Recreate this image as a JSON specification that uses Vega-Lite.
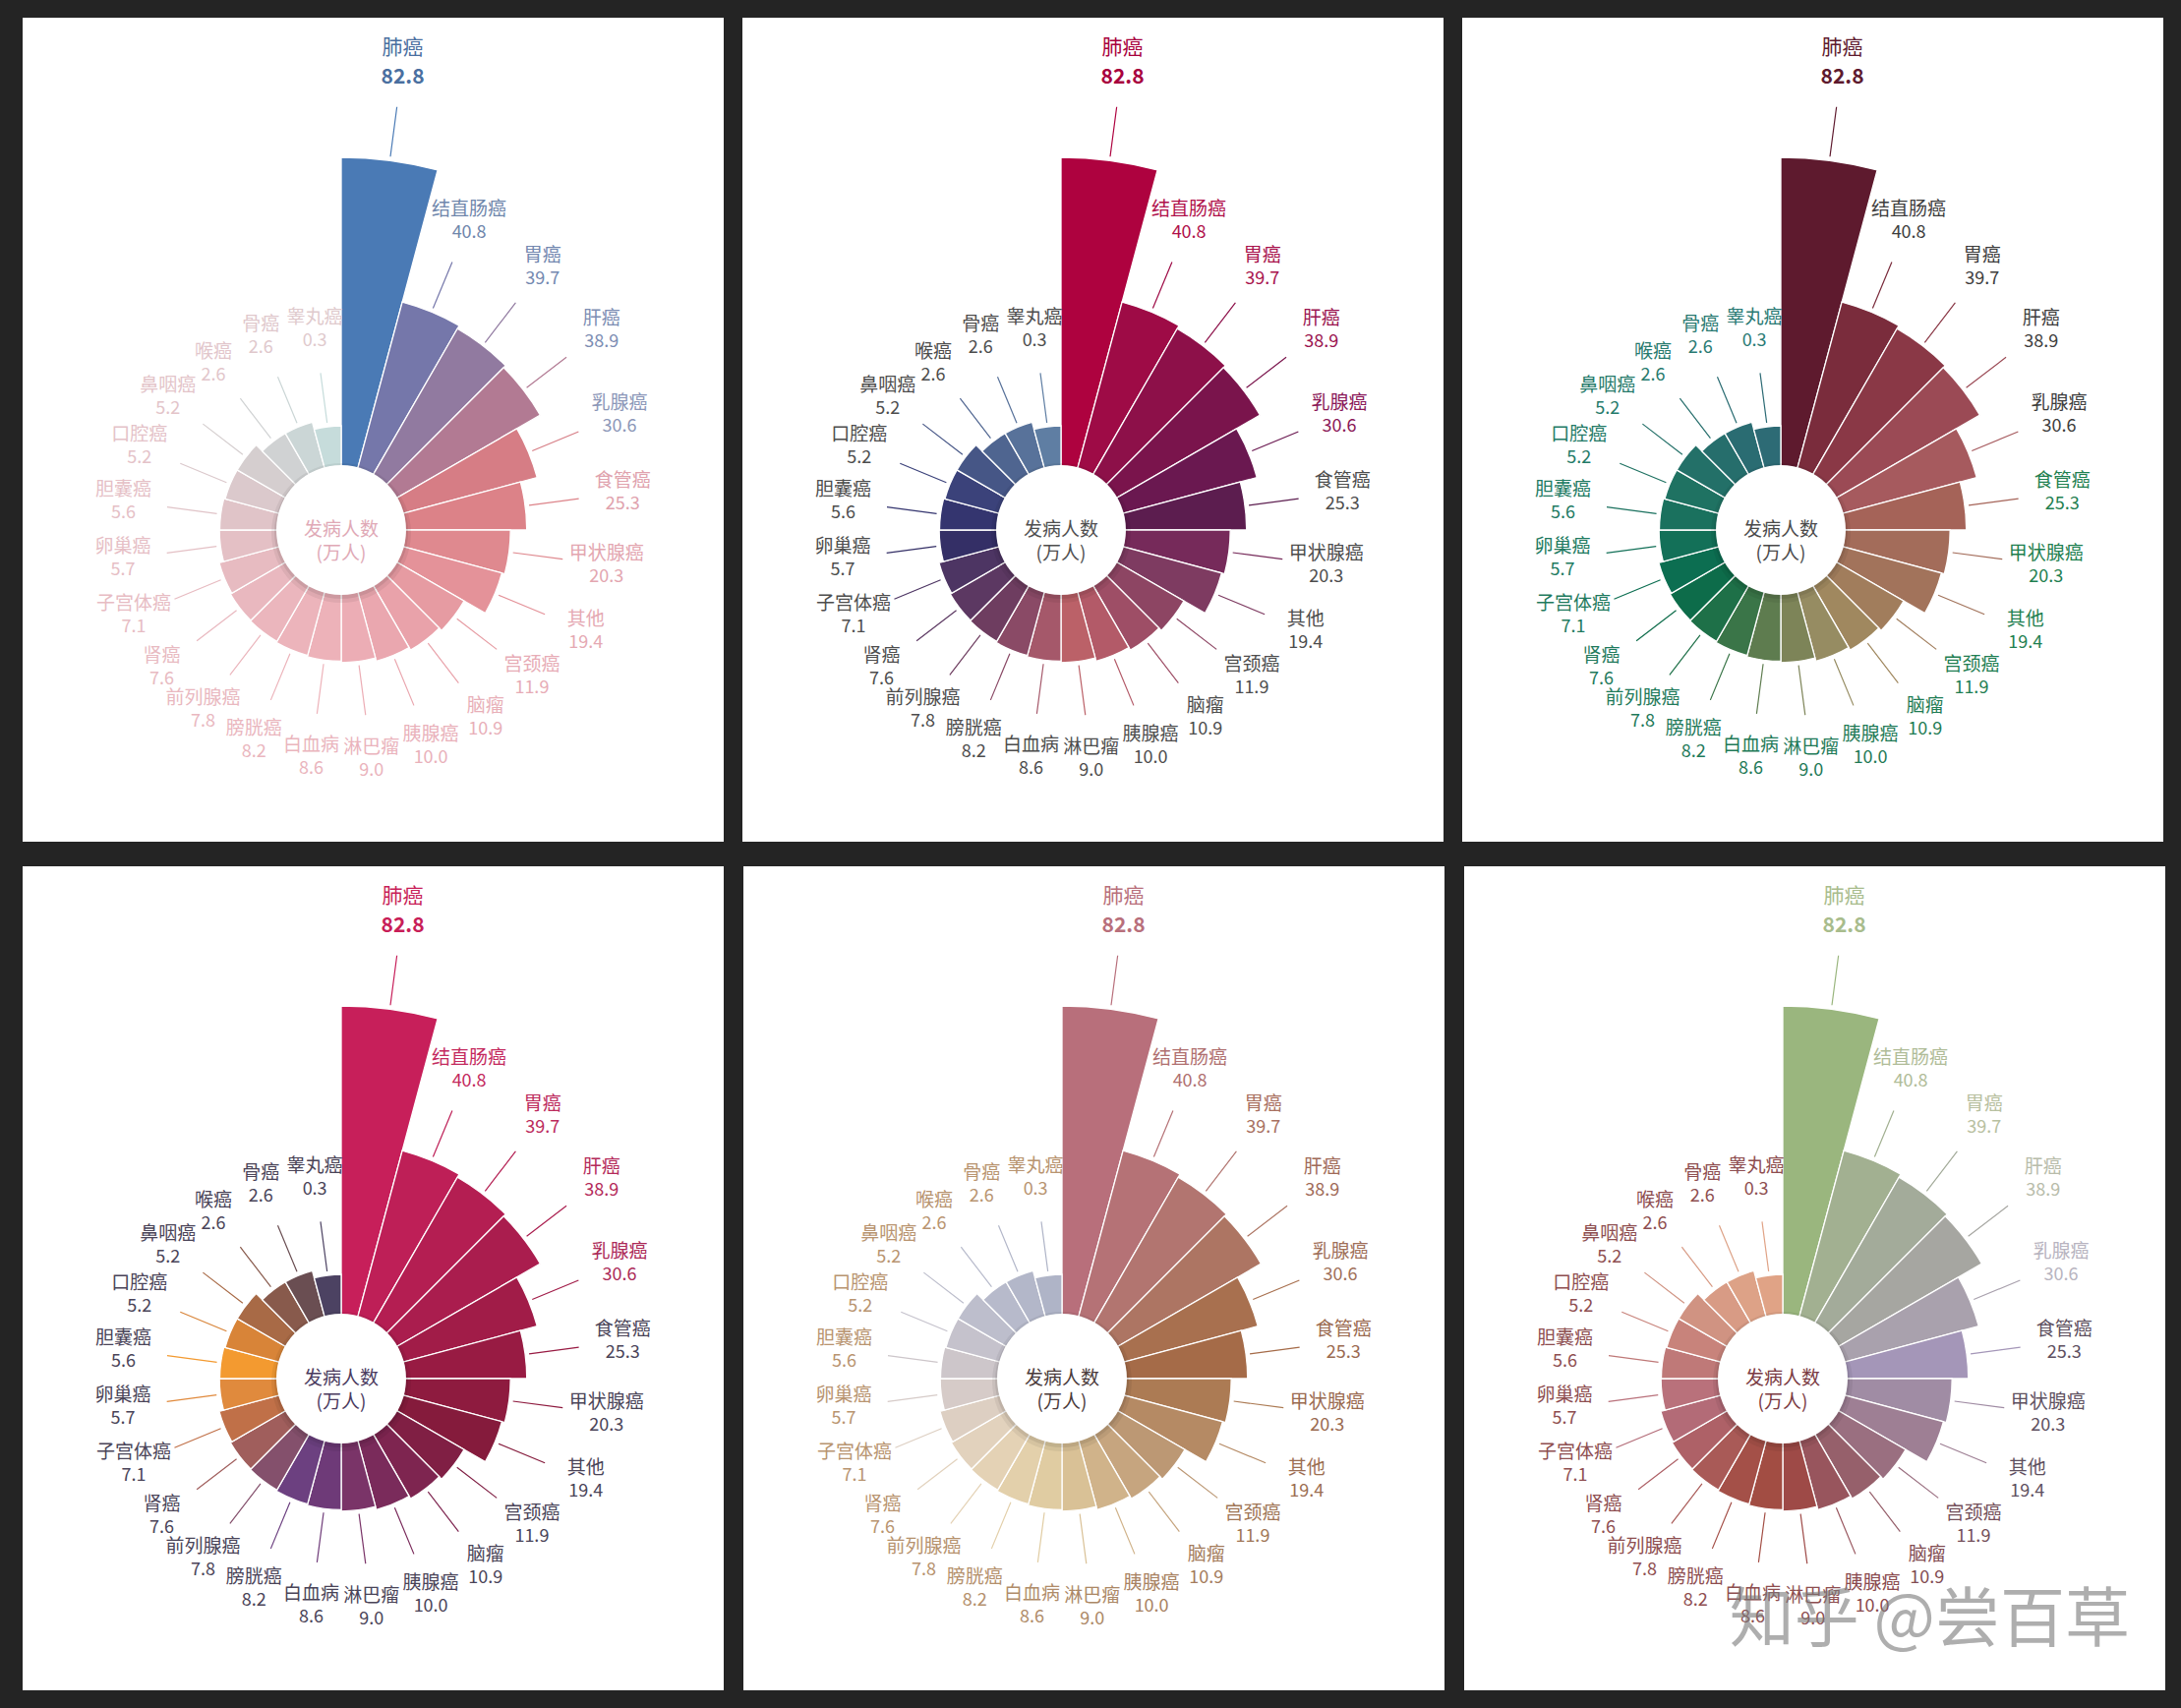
{
"$schema":"https://vega.github.io/schema/vega-lite/v6.json",
"background":"#242424",
"padding":{"left":23,"top":18,"right":18,"bottom":18},
"datasets":{"cancer":[
{"name":"肺癌","value":82.8},{"name":"结直肠癌","value":40.8},{"name":"胃癌","value":39.7},{"name":"肝癌","value":38.9},
{"name":"乳腺癌","value":30.6},{"name":"食管癌","value":25.3},{"name":"甲状腺癌","value":20.3},{"name":"其他","value":19.4},
{"name":"宫颈癌","value":11.9},{"name":"脑瘤","value":10.9},{"name":"胰腺癌","value":10.0},{"name":"淋巴瘤","value":9.0},
{"name":"白血病","value":8.6},{"name":"膀胱癌","value":8.2},{"name":"前列腺癌","value":7.8},{"name":"肾癌","value":7.6},
{"name":"子宫体癌","value":7.1},{"name":"卵巢癌","value":5.7},{"name":"胆囊癌","value":5.6},{"name":"口腔癌","value":5.2},
{"name":"鼻咽癌","value":5.2},{"name":"喉癌","value":2.6},{"name":"骨癌","value":2.6},{"name":"睾丸癌","value":0.3}]},
"config":{"view":{"fill":"#ffffff","stroke":null},"text":{"font":"Noto Sans CJK SC"}},
"spacing":25,
"resolve":{"scale":{"color":"independent","fill":"independent"}},
"vconcat":[
{"hconcat":[
{"width":713,"height":838,"view":{"fill":"#ffffff","stroke":null},"data":{"name":"cancer"},"transform":[{"window":[{"op":"row_number","as":"r"}]}],
"layer":[
{"mark":{"type":"arc","x":324,"y":521,"theta2Offset":0.261799,"stroke":"#ffffff","strokeWidth":1.3},"encoding":{"theta":{"field":"r","type":"quantitative","scale":{"domain":[1,25]}},"theta2":{"field":"r"},"radius":{"field":"value","type":"quantitative","scale":{"zero":true,"nice":false,"range":[105,379]}},"radius2":{"value":40},"color":{"field":"r","type":"ordinal","legend":null,"scale":{"range":["#4a7ab5","#7577aa","#917aa0","#b27a93","#d67d85","#dc8288","#df898f","#e49299","#e69ba2","#e9a2aa","#eaa7af","#ecadb5","#edb2b9","#ecb4bb","#ebb6bd","#e9b8bf","#e7bbc1","#e4c0c5","#e0c4c8","#dbc9cc","#d5cecf","#d0d2d3","#cbd6d6","#c6dcdb"]}}}},
{"mark":{"type":"arc","x":324,"y":521,"filled":false,"thetaOffset":0.1309,"theta2Offset":0.1309,"radiusOffset":55,"radius2Offset":4,"strokeWidth":1.2},"encoding":{"theta":{"field":"r","type":"quantitative","scale":{"domain":[1,25]}},"theta2":{"field":"r"},"radius":{"field":"value","type":"quantitative","scale":{"zero":true,"nice":false,"range":[105,379]}},"radius2":{"field":"value"},"color":{"field":"r","type":"ordinal","legend":null}}},
{"data":{"values":[{}]},"mark":{"type":"arc","x":324,"y":524,"radius":71,"fill":"#000000","opacity":0.06}},
{"data":{"values":[{}]},"mark":{"type":"arc","x":324,"y":523,"radius":68,"fill":"#000000","opacity":0.08}},
{"data":{"values":[{}]},"mark":{"type":"arc","x":324,"y":521,"radius":66,"fill":"#ffffff"}},
{"data":{"values":[{}]},"mark":{"type":"text","x":324,"y":521,"text":["发病人数","(万人)"],"lineHeight":24,"fontSize":19,"align":"center","baseline":"middle","color":"#e0a9b6"}},
{"transform":[{"filter":"datum.r > 1"}],"mark":{"type":"text","x":324,"y":521,"thetaOffset":0.1309,"radiusOffset":100,"dy":-12,"fontSize":19,"align":"center","baseline":"middle"},"encoding":{"theta":{"field":"r","type":"quantitative","scale":{"domain":[1,25]}},"radius":{"field":"value","type":"quantitative","scale":{"zero":true,"nice":false,"range":[105,379]}},"text":{"field":"name"},"fill":{"field":"r","type":"ordinal","legend":null,"scale":{"range":["#4a6fa0","#6f86ab","#7388b0","#7c8db3","#8c97b8","#e0a2ad","#e3a6b0","#e5a9b3","#e7acb6","#e8afb8","#e9b1ba","#eab3bc","#eab5bd","#eab6be","#e9b8c0","#e8bac1","#e7bcc3","#e6bec5","#e5c0c6","#e4c2c8","#e3c4c9","#e2c6cb","#e0c8cc","#dfcacd"]}}}},
{"transform":[{"filter":"datum.r > 1"}],"mark":{"type":"text","x":324,"y":521,"thetaOffset":0.1309,"radiusOffset":100,"dy":12,"fontSize":18,"align":"center","baseline":"middle"},"encoding":{"theta":{"field":"r","type":"quantitative","scale":{"domain":[1,25]}},"radius":{"field":"value","type":"quantitative","scale":{"zero":true,"nice":false,"range":[105,379]}},"text":{"field":"value","type":"quantitative","format":".1f"},"fill":{"field":"r","type":"ordinal","legend":null}}},
{"transform":[{"filter":"datum.r == 1"}],"mark":{"type":"text","x":324,"y":521,"thetaOffset":0.1309,"radiusOffset":100,"dy":-15,"fontSize":21,"align":"center","baseline":"middle"},"encoding":{"theta":{"field":"r","type":"quantitative","scale":{"domain":[1,25]}},"radius":{"field":"value","type":"quantitative","scale":{"zero":true,"nice":false,"range":[105,379]}},"text":{"field":"name"},"fill":{"field":"r","type":"ordinal","legend":null}}},
{"transform":[{"filter":"datum.r == 1"}],"mark":{"type":"text","x":324,"y":521,"thetaOffset":0.1309,"radiusOffset":100,"dy":15,"fontSize":21,"fontWeight":"bold","align":"center","baseline":"middle"},"encoding":{"theta":{"field":"r","type":"quantitative","scale":{"domain":[1,25]}},"radius":{"field":"value","type":"quantitative","scale":{"zero":true,"nice":false,"range":[105,379]}},"text":{"field":"value","type":"quantitative","format":".1f"},"fill":{"field":"r","type":"ordinal","legend":null}}}
]},
{"width":713,"height":838,"view":{"fill":"#ffffff","stroke":null},"data":{"name":"cancer"},"transform":[{"window":[{"op":"row_number","as":"r"}]}],
"layer":[
{"mark":{"type":"arc","x":324,"y":521,"theta2Offset":0.261799,"stroke":"#ffffff","strokeWidth":1.3},"encoding":{"theta":{"field":"r","type":"quantitative","scale":{"domain":[1,25]}},"theta2":{"field":"r"},"radius":{"field":"value","type":"quantitative","scale":{"zero":true,"nice":false,"range":[105,379]}},"radius2":{"value":40},"color":{"field":"r","type":"ordinal","legend":null,"scale":{"range":["#ae023f","#9e0b46","#8d1049","#7a144c","#6a1850","#5c1d4f","#762a5a","#7e3b61","#8d4563","#9e4e66","#b35a68","#bb6168","#a5586a","#8a4a66","#6e3d60","#5c3862","#4d3563","#342f66","#34356f","#3b427a","#465686","#4f6590","#58729a","#5f7ea3"]}}}},
{"mark":{"type":"arc","x":324,"y":521,"filled":false,"thetaOffset":0.1309,"theta2Offset":0.1309,"radiusOffset":55,"radius2Offset":4,"strokeWidth":1.2},"encoding":{"theta":{"field":"r","type":"quantitative","scale":{"domain":[1,25]}},"theta2":{"field":"r"},"radius":{"field":"value","type":"quantitative","scale":{"zero":true,"nice":false,"range":[105,379]}},"radius2":{"field":"value"},"color":{"field":"r","type":"ordinal","legend":null}}},
{"data":{"values":[{}]},"mark":{"type":"arc","x":324,"y":524,"radius":71,"fill":"#000000","opacity":0.06}},
{"data":{"values":[{}]},"mark":{"type":"arc","x":324,"y":523,"radius":68,"fill":"#000000","opacity":0.08}},
{"data":{"values":[{}]},"mark":{"type":"arc","x":324,"y":521,"radius":66,"fill":"#ffffff"}},
{"data":{"values":[{}]},"mark":{"type":"text","x":324,"y":521,"text":["发病人数","(万人)"],"lineHeight":24,"fontSize":19,"align":"center","baseline":"middle","color":"#4f4f4f"}},
{"transform":[{"filter":"datum.r > 1"}],"mark":{"type":"text","x":324,"y":521,"thetaOffset":0.1309,"radiusOffset":100,"dy":-12,"fontSize":19,"align":"center","baseline":"middle"},"encoding":{"theta":{"field":"r","type":"quantitative","scale":{"domain":[1,25]}},"radius":{"field":"value","type":"quantitative","scale":{"zero":true,"nice":false,"range":[105,379]}},"text":{"field":"name"},"fill":{"field":"r","type":"ordinal","legend":null,"scale":{"range":["#a8003d","#b0104a","#a8124c","#9a1450","#8a1858","#4d4d4d","#4d4d4d","#4d4d4d","#4d4d4d","#4d4d4d","#4d4d4d","#4d4d4d","#4d4d4d","#4d4d4d","#4d4d4d","#4d4d4d","#4d4d4d","#4d4d4d","#4d4d4d","#4d4d4d","#4d4d4d","#4d4d4d","#4d4d4d","#4d4d4d"]}}}},
{"transform":[{"filter":"datum.r > 1"}],"mark":{"type":"text","x":324,"y":521,"thetaOffset":0.1309,"radiusOffset":100,"dy":12,"fontSize":18,"align":"center","baseline":"middle"},"encoding":{"theta":{"field":"r","type":"quantitative","scale":{"domain":[1,25]}},"radius":{"field":"value","type":"quantitative","scale":{"zero":true,"nice":false,"range":[105,379]}},"text":{"field":"value","type":"quantitative","format":".1f"},"fill":{"field":"r","type":"ordinal","legend":null}}},
{"transform":[{"filter":"datum.r == 1"}],"mark":{"type":"text","x":324,"y":521,"thetaOffset":0.1309,"radiusOffset":100,"dy":-15,"fontSize":21,"align":"center","baseline":"middle"},"encoding":{"theta":{"field":"r","type":"quantitative","scale":{"domain":[1,25]}},"radius":{"field":"value","type":"quantitative","scale":{"zero":true,"nice":false,"range":[105,379]}},"text":{"field":"name"},"fill":{"field":"r","type":"ordinal","legend":null}}},
{"transform":[{"filter":"datum.r == 1"}],"mark":{"type":"text","x":324,"y":521,"thetaOffset":0.1309,"radiusOffset":100,"dy":15,"fontSize":21,"fontWeight":"bold","align":"center","baseline":"middle"},"encoding":{"theta":{"field":"r","type":"quantitative","scale":{"domain":[1,25]}},"radius":{"field":"value","type":"quantitative","scale":{"zero":true,"nice":false,"range":[105,379]}},"text":{"field":"value","type":"quantitative","format":".1f"},"fill":{"field":"r","type":"ordinal","legend":null}}}
]},
{"width":713,"height":838,"view":{"fill":"#ffffff","stroke":null},"data":{"name":"cancer"},"transform":[{"window":[{"op":"row_number","as":"r"}]}],
"layer":[
{"mark":{"type":"arc","x":324,"y":521,"theta2Offset":0.261799,"stroke":"#ffffff","strokeWidth":1.3},"encoding":{"theta":{"field":"r","type":"quantitative","scale":{"domain":[1,25]}},"theta2":{"field":"r"},"radius":{"field":"value","type":"quantitative","scale":{"zero":true,"nice":false,"range":[105,379]}},"radius2":{"value":40},"color":{"field":"r","type":"ordinal","legend":null,"scale":{"range":["#5e1a2e","#7a2c3c","#8a3846","#9b4a55","#a65a5e","#a56358","#a36c5a","#a2735b","#a17d5c","#a0885f","#968c62","#7d8458","#5e7c4f","#3a7548","#1e7048","#0d6c4a","#0c6e51","#137058","#1a715e","#1f7262","#237068","#266e6c","#2a6c72","#2d6b75"]}}}},
{"mark":{"type":"arc","x":324,"y":521,"filled":false,"thetaOffset":0.1309,"theta2Offset":0.1309,"radiusOffset":55,"radius2Offset":4,"strokeWidth":1.2},"encoding":{"theta":{"field":"r","type":"quantitative","scale":{"domain":[1,25]}},"theta2":{"field":"r"},"radius":{"field":"value","type":"quantitative","scale":{"zero":true,"nice":false,"range":[105,379]}},"radius2":{"field":"value"},"color":{"field":"r","type":"ordinal","legend":null}}},
{"data":{"values":[{}]},"mark":{"type":"arc","x":324,"y":524,"radius":71,"fill":"#000000","opacity":0.06}},
{"data":{"values":[{}]},"mark":{"type":"arc","x":324,"y":523,"radius":68,"fill":"#000000","opacity":0.08}},
{"data":{"values":[{}]},"mark":{"type":"arc","x":324,"y":521,"radius":66,"fill":"#ffffff"}},
{"data":{"values":[{}]},"mark":{"type":"text","x":324,"y":521,"text":["发病人数","(万人)"],"lineHeight":24,"fontSize":19,"align":"center","baseline":"middle","color":"#4a4a4a"}},
{"transform":[{"filter":"datum.r > 1"}],"mark":{"type":"text","x":324,"y":521,"thetaOffset":0.1309,"radiusOffset":100,"dy":-12,"fontSize":19,"align":"center","baseline":"middle"},"encoding":{"theta":{"field":"r","type":"quantitative","scale":{"domain":[1,25]}},"radius":{"field":"value","type":"quantitative","scale":{"zero":true,"nice":false,"range":[105,379]}},"text":{"field":"name"},"fill":{"field":"r","type":"ordinal","legend":null,"scale":{"range":["#5e1a2e","#3d3d3d","#3d3d3d","#3d3d3d","#3d3d3d","#1f8050","#1f8050","#1f8050","#1f7e52","#1f7c54","#1f7a56","#1f7a58","#1f7a58","#1f7a5a","#1f7a5a","#1f7a5c","#1f7a5e","#207a60","#217a62","#237a66","#257a6a","#277a6e","#297a72","#2a7a74"]}}}},
{"transform":[{"filter":"datum.r > 1"}],"mark":{"type":"text","x":324,"y":521,"thetaOffset":0.1309,"radiusOffset":100,"dy":12,"fontSize":18,"align":"center","baseline":"middle"},"encoding":{"theta":{"field":"r","type":"quantitative","scale":{"domain":[1,25]}},"radius":{"field":"value","type":"quantitative","scale":{"zero":true,"nice":false,"range":[105,379]}},"text":{"field":"value","type":"quantitative","format":".1f"},"fill":{"field":"r","type":"ordinal","legend":null}}},
{"transform":[{"filter":"datum.r == 1"}],"mark":{"type":"text","x":324,"y":521,"thetaOffset":0.1309,"radiusOffset":100,"dy":-15,"fontSize":21,"align":"center","baseline":"middle"},"encoding":{"theta":{"field":"r","type":"quantitative","scale":{"domain":[1,25]}},"radius":{"field":"value","type":"quantitative","scale":{"zero":true,"nice":false,"range":[105,379]}},"text":{"field":"name"},"fill":{"field":"r","type":"ordinal","legend":null}}},
{"transform":[{"filter":"datum.r == 1"}],"mark":{"type":"text","x":324,"y":521,"thetaOffset":0.1309,"radiusOffset":100,"dy":15,"fontSize":21,"fontWeight":"bold","align":"center","baseline":"middle"},"encoding":{"theta":{"field":"r","type":"quantitative","scale":{"domain":[1,25]}},"radius":{"field":"value","type":"quantitative","scale":{"zero":true,"nice":false,"range":[105,379]}},"text":{"field":"value","type":"quantitative","format":".1f"},"fill":{"field":"r","type":"ordinal","legend":null}}}
]}
],"spacing":19,"resolve":{"scale":{"color":"independent","fill":"independent"}}},
{"hconcat":[
{"width":713,"height":838,"view":{"fill":"#ffffff","stroke":null},"data":{"name":"cancer"},"transform":[{"window":[{"op":"row_number","as":"r"}]}],
"layer":[
{"mark":{"type":"arc","x":324,"y":521,"theta2Offset":0.261799,"stroke":"#ffffff","strokeWidth":1.3},"encoding":{"theta":{"field":"r","type":"quantitative","scale":{"domain":[1,25]}},"theta2":{"field":"r"},"radius":{"field":"value","type":"quantitative","scale":{"zero":true,"nice":false,"range":[105,379]}},"radius2":{"value":40},"color":{"field":"r","type":"ordinal","legend":null,"scale":{"range":["#c71f5a","#be1f57","#b41e52","#aa1d4e","#a11c48","#981b43","#8e1b3f","#851b3c","#801f44","#7e2550","#7a2b5b","#7a3468","#6e3a78","#6c4080","#84506c","#a05e5c","#c07048","#e08a3d","#f39a30","#d88438","#a86a46","#885a4c","#6a4e52","#4c4262"]}}}},
{"mark":{"type":"arc","x":324,"y":521,"filled":false,"thetaOffset":0.1309,"theta2Offset":0.1309,"radiusOffset":55,"radius2Offset":4,"strokeWidth":1.2},"encoding":{"theta":{"field":"r","type":"quantitative","scale":{"domain":[1,25]}},"theta2":{"field":"r"},"radius":{"field":"value","type":"quantitative","scale":{"zero":true,"nice":false,"range":[105,379]}},"radius2":{"field":"value"},"color":{"field":"r","type":"ordinal","legend":null}}},
{"data":{"values":[{}]},"mark":{"type":"arc","x":324,"y":524,"radius":71,"fill":"#000000","opacity":0.06}},
{"data":{"values":[{}]},"mark":{"type":"arc","x":324,"y":523,"radius":68,"fill":"#000000","opacity":0.08}},
{"data":{"values":[{}]},"mark":{"type":"arc","x":324,"y":521,"radius":66,"fill":"#ffffff"}},
{"data":{"values":[{}]},"mark":{"type":"text","x":324,"y":521,"text":["发病人数","(万人)"],"lineHeight":24,"fontSize":19,"align":"center","baseline":"middle","color":"#4a3a5e"}},
{"transform":[{"filter":"datum.r > 1"}],"mark":{"type":"text","x":324,"y":521,"thetaOffset":0.1309,"radiusOffset":100,"dy":-12,"fontSize":19,"align":"center","baseline":"middle"},"encoding":{"theta":{"field":"r","type":"quantitative","scale":{"domain":[1,25]}},"radius":{"field":"value","type":"quantitative","scale":{"zero":true,"nice":false,"range":[105,379]}},"text":{"field":"name"},"fill":{"field":"r","type":"ordinal","legend":null,"scale":{"range":["#c81e58","#c42a5e","#bc2a5c","#b42a5a","#ac2a58","#4a4458","#4a4458","#4a4458","#4a4458","#4a4458","#4a4458","#4a4458","#4a4458","#4a4458","#4a4458","#4a4458","#4a4458","#4a4458","#4a4458","#4a4458","#4a4458","#4a4458","#4a4458","#4a4458"]}}}},
{"transform":[{"filter":"datum.r > 1"}],"mark":{"type":"text","x":324,"y":521,"thetaOffset":0.1309,"radiusOffset":100,"dy":12,"fontSize":18,"align":"center","baseline":"middle"},"encoding":{"theta":{"field":"r","type":"quantitative","scale":{"domain":[1,25]}},"radius":{"field":"value","type":"quantitative","scale":{"zero":true,"nice":false,"range":[105,379]}},"text":{"field":"value","type":"quantitative","format":".1f"},"fill":{"field":"r","type":"ordinal","legend":null}}},
{"transform":[{"filter":"datum.r == 1"}],"mark":{"type":"text","x":324,"y":521,"thetaOffset":0.1309,"radiusOffset":100,"dy":-15,"fontSize":21,"align":"center","baseline":"middle"},"encoding":{"theta":{"field":"r","type":"quantitative","scale":{"domain":[1,25]}},"radius":{"field":"value","type":"quantitative","scale":{"zero":true,"nice":false,"range":[105,379]}},"text":{"field":"name"},"fill":{"field":"r","type":"ordinal","legend":null}}},
{"transform":[{"filter":"datum.r == 1"}],"mark":{"type":"text","x":324,"y":521,"thetaOffset":0.1309,"radiusOffset":100,"dy":15,"fontSize":21,"fontWeight":"bold","align":"center","baseline":"middle"},"encoding":{"theta":{"field":"r","type":"quantitative","scale":{"domain":[1,25]}},"radius":{"field":"value","type":"quantitative","scale":{"zero":true,"nice":false,"range":[105,379]}},"text":{"field":"value","type":"quantitative","format":".1f"},"fill":{"field":"r","type":"ordinal","legend":null}}}
]},
{"width":713,"height":838,"view":{"fill":"#ffffff","stroke":null},"data":{"name":"cancer"},"transform":[{"window":[{"op":"row_number","as":"r"}]}],
"layer":[
{"mark":{"type":"arc","x":324,"y":521,"theta2Offset":0.261799,"stroke":"#ffffff","strokeWidth":1.3},"encoding":{"theta":{"field":"r","type":"quantitative","scale":{"domain":[1,25]}},"theta2":{"field":"r"},"radius":{"field":"value","type":"quantitative","scale":{"zero":true,"nice":false,"range":[105,379]}},"radius2":{"value":40},"color":{"field":"r","type":"ordinal","legend":null,"scale":{"range":["#b86f7b","#b57276","#b27570","#ad7563","#a8704f","#a56b48","#ac7b54","#b58a64","#bc9874","#c6a57f","#d0b38a","#d9c196","#e0cca2","#e3d0ab","#e4d2b5","#e2d2bd","#ddcfc2","#d6cbc8","#cdc6ca","#c5c2cc","#bdbecc","#b7bacb","#b3b7c9","#afb4c7"]}}}},
{"mark":{"type":"arc","x":324,"y":521,"filled":false,"thetaOffset":0.1309,"theta2Offset":0.1309,"radiusOffset":55,"radius2Offset":4,"strokeWidth":1.2},"encoding":{"theta":{"field":"r","type":"quantitative","scale":{"domain":[1,25]}},"theta2":{"field":"r"},"radius":{"field":"value","type":"quantitative","scale":{"zero":true,"nice":false,"range":[105,379]}},"radius2":{"field":"value"},"color":{"field":"r","type":"ordinal","legend":null}}},
{"data":{"values":[{}]},"mark":{"type":"arc","x":324,"y":524,"radius":71,"fill":"#000000","opacity":0.06}},
{"data":{"values":[{}]},"mark":{"type":"arc","x":324,"y":523,"radius":68,"fill":"#000000","opacity":0.08}},
{"data":{"values":[{}]},"mark":{"type":"arc","x":324,"y":521,"radius":66,"fill":"#ffffff"}},
{"data":{"values":[{}]},"mark":{"type":"text","x":324,"y":521,"text":["发病人数","(万人)"],"lineHeight":24,"fontSize":19,"align":"center","baseline":"middle","color":"#4a3a3a"}},
{"transform":[{"filter":"datum.r > 1"}],"mark":{"type":"text","x":324,"y":521,"thetaOffset":0.1309,"radiusOffset":100,"dy":-12,"fontSize":19,"align":"center","baseline":"middle"},"encoding":{"theta":{"field":"r","type":"quantitative","scale":{"domain":[1,25]}},"radius":{"field":"value","type":"quantitative","scale":{"zero":true,"nice":false,"range":[105,379]}},"text":{"field":"name"},"fill":{"field":"r","type":"ordinal","legend":null,"scale":{"range":["#b86f7b","#b07070","#a87060","#a06a58","#a0705a","#9a6a50","#9a6a50","#9c6e52","#a07656","#a47c5c","#a88262","#ac8866","#b08c6a","#b4906c","#b6926e","#b89470","#b89470","#b89470","#b89470","#b89470","#b89470","#b89470","#b89470","#b89470"]}}}},
{"transform":[{"filter":"datum.r > 1"}],"mark":{"type":"text","x":324,"y":521,"thetaOffset":0.1309,"radiusOffset":100,"dy":12,"fontSize":18,"align":"center","baseline":"middle"},"encoding":{"theta":{"field":"r","type":"quantitative","scale":{"domain":[1,25]}},"radius":{"field":"value","type":"quantitative","scale":{"zero":true,"nice":false,"range":[105,379]}},"text":{"field":"value","type":"quantitative","format":".1f"},"fill":{"field":"r","type":"ordinal","legend":null}}},
{"transform":[{"filter":"datum.r == 1"}],"mark":{"type":"text","x":324,"y":521,"thetaOffset":0.1309,"radiusOffset":100,"dy":-15,"fontSize":21,"align":"center","baseline":"middle"},"encoding":{"theta":{"field":"r","type":"quantitative","scale":{"domain":[1,25]}},"radius":{"field":"value","type":"quantitative","scale":{"zero":true,"nice":false,"range":[105,379]}},"text":{"field":"name"},"fill":{"field":"r","type":"ordinal","legend":null}}},
{"transform":[{"filter":"datum.r == 1"}],"mark":{"type":"text","x":324,"y":521,"thetaOffset":0.1309,"radiusOffset":100,"dy":15,"fontSize":21,"fontWeight":"bold","align":"center","baseline":"middle"},"encoding":{"theta":{"field":"r","type":"quantitative","scale":{"domain":[1,25]}},"radius":{"field":"value","type":"quantitative","scale":{"zero":true,"nice":false,"range":[105,379]}},"text":{"field":"value","type":"quantitative","format":".1f"},"fill":{"field":"r","type":"ordinal","legend":null}}}
]},
{"width":713,"height":838,"view":{"fill":"#ffffff","stroke":null},"data":{"name":"cancer"},"transform":[{"window":[{"op":"row_number","as":"r"}]}],
"title":{"text":"知乎 @尝百草","orient":"bottom","anchor":"end","offset":-102,"dx":-36,"fontSize":66,"fontWeight":"normal","color":"rgba(120,120,120,0.6)","font":"Noto Sans CJK SC"},
"layer":[
{"mark":{"type":"arc","x":324,"y":521,"theta2Offset":0.261799,"stroke":"#ffffff","strokeWidth":1.3},"encoding":{"theta":{"field":"r","type":"quantitative","scale":{"domain":[1,25]}},"theta2":{"field":"r"},"radius":{"field":"value","type":"quantitative","scale":{"zero":true,"nice":false,"range":[105,379]}},"radius2":{"value":40},"color":{"field":"r","type":"ordinal","legend":null,"scale":{"range":["#9ab67e","#a2b091","#a3ab9a","#a6a6a1","#a9a1ad","#a496b8","#a08ca4","#9e7f94","#9a6f80","#96606b","#98555d","#9e4a47","#a24d43","#a45048","#a95a57","#ae6167","#b36b77","#b9717b","#bf7978","#c8837b","#d09382","#d89b85","#dda287","#e0a386"]}}}},
{"mark":{"type":"arc","x":324,"y":521,"filled":false,"thetaOffset":0.1309,"theta2Offset":0.1309,"radiusOffset":55,"radius2Offset":4,"strokeWidth":1.2},"encoding":{"theta":{"field":"r","type":"quantitative","scale":{"domain":[1,25]}},"theta2":{"field":"r"},"radius":{"field":"value","type":"quantitative","scale":{"zero":true,"nice":false,"range":[105,379]}},"radius2":{"field":"value"},"color":{"field":"r","type":"ordinal","legend":null}}},
{"data":{"values":[{}]},"mark":{"type":"arc","x":324,"y":524,"radius":71,"fill":"#000000","opacity":0.06}},
{"data":{"values":[{}]},"mark":{"type":"arc","x":324,"y":523,"radius":68,"fill":"#000000","opacity":0.08}},
{"data":{"values":[{}]},"mark":{"type":"arc","x":324,"y":521,"radius":66,"fill":"#ffffff"}},
{"data":{"values":[{}]},"mark":{"type":"text","x":324,"y":521,"text":["发病人数","(万人)"],"lineHeight":24,"fontSize":19,"align":"center","baseline":"middle","color":"#7a3a42"}},
{"transform":[{"filter":"datum.r > 1"}],"mark":{"type":"text","x":324,"y":521,"thetaOffset":0.1309,"radiusOffset":100,"dy":-12,"fontSize":19,"align":"center","baseline":"middle"},"encoding":{"theta":{"field":"r","type":"quantitative","scale":{"domain":[1,25]}},"radius":{"field":"value","type":"quantitative","scale":{"zero":true,"nice":false,"range":[105,379]}},"text":{"field":"name"},"fill":{"field":"r","type":"ordinal","legend":null,"scale":{"range":["#a8bc8c","#b0bc98","#b8c0a0","#b8bcaa","#b8b4c0","#5e5060","#5e5060","#5e5060","#74505a","#824c52","#8a4a4e","#8e4e50","#8e4e50","#8e4e50","#8e4e50","#8e4e50","#8e4e50","#8e4e50","#8e4e50","#8e4e50","#8e4e50","#8e4e50","#8e4e50","#8e4e50"]}}}},
{"transform":[{"filter":"datum.r > 1"}],"mark":{"type":"text","x":324,"y":521,"thetaOffset":0.1309,"radiusOffset":100,"dy":12,"fontSize":18,"align":"center","baseline":"middle"},"encoding":{"theta":{"field":"r","type":"quantitative","scale":{"domain":[1,25]}},"radius":{"field":"value","type":"quantitative","scale":{"zero":true,"nice":false,"range":[105,379]}},"text":{"field":"value","type":"quantitative","format":".1f"},"fill":{"field":"r","type":"ordinal","legend":null}}},
{"transform":[{"filter":"datum.r == 1"}],"mark":{"type":"text","x":324,"y":521,"thetaOffset":0.1309,"radiusOffset":100,"dy":-15,"fontSize":21,"align":"center","baseline":"middle"},"encoding":{"theta":{"field":"r","type":"quantitative","scale":{"domain":[1,25]}},"radius":{"field":"value","type":"quantitative","scale":{"zero":true,"nice":false,"range":[105,379]}},"text":{"field":"name"},"fill":{"field":"r","type":"ordinal","legend":null}}},
{"transform":[{"filter":"datum.r == 1"}],"mark":{"type":"text","x":324,"y":521,"thetaOffset":0.1309,"radiusOffset":100,"dy":15,"fontSize":21,"fontWeight":"bold","align":"center","baseline":"middle"},"encoding":{"theta":{"field":"r","type":"quantitative","scale":{"domain":[1,25]}},"radius":{"field":"value","type":"quantitative","scale":{"zero":true,"nice":false,"range":[105,379]}},"text":{"field":"value","type":"quantitative","format":".1f"},"fill":{"field":"r","type":"ordinal","legend":null}}}
]}
],"spacing":20,"resolve":{"scale":{"color":"independent","fill":"independent"}}}
]
}
